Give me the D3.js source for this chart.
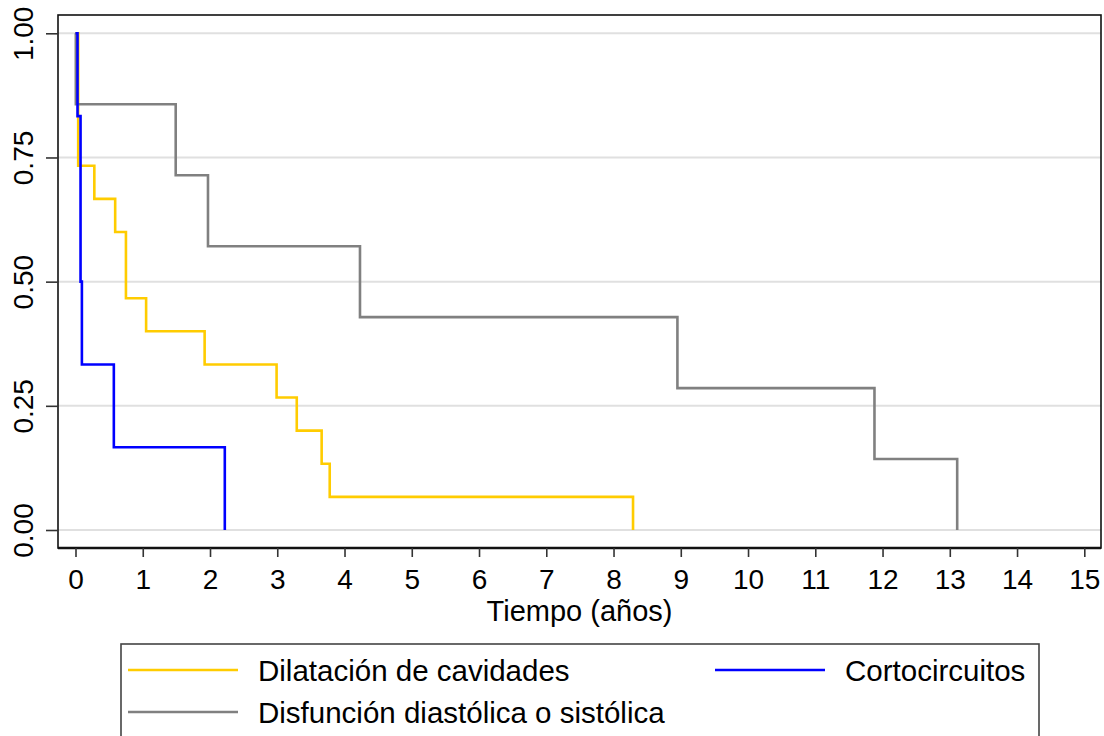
<!DOCTYPE html>
<html>
<head>
<meta charset="utf-8">
<script src="https://cdn.jsdelivr.net/npm/d3@7"></script>
<style>
  html, body { margin: 0; padding: 0; background: #fff; }
  svg { display: block; font-family: "Liberation Sans", Arial, sans-serif; }
</style>
</head>
<body>
<svg id="chart" width="1104" height="736"></svg>
<script>
// Kaplan-Meier survival estimates by group (time in years)
const dilTime = [0, 0.04, 0.28, 0.59, 0.75, 1.05, 1.92, 2.99, 3.29, 3.66, 3.78, 8.29];
const dilSurv = [1, 0.7333, 0.6667, 0.6, 0.4667, 0.4, 0.3333, 0.2667, 0.2, 0.1333, 0.0667, 0];

const disTime = [0, 0.005, 1.49, 1.97, 4.23, 8.95, 11.88, 13.11];
const disSurv = [1, 0.8571, 0.7143, 0.5714, 0.4286, 0.2857, 0.1429, 0];

const corTime = [0, 0.03, 0.075, 0.095, 0.57, 2.22];
const corSurv = [1, 0.8333, 0.5, 0.3333, 0.1667, 0];

const xTicks = d3.range(0, 16);
const yTicks = [0, 0.25, 0.5, 0.75, 1];
const yTickLabels = ["0.00", "0.25", "0.50", "0.75", "1.00"];

const legendLabels = ["Dilatación de cavidades", "Cortocircuitos", "Disfunción diastólica o sistólica"];
const xTitle = "Tiempo (años)";

const colors = { dil: "#ffcc00", cor: "#0000ff", dis: "#808080" };

const svg = d3.select("#chart");

// plot region frame
const frame = { left: 58, top: 15, right: 1101, bottom: 548 };
const x = d3.scaleLinear().domain([0, 15]).range([75.5, 1084.3]);
const y = d3.scaleLinear().domain([0, 1]).range([530, 33.3]);

// horizontal grid
svg.append("g").selectAll("line").data(yTicks).join("line")
  .attr("x1", frame.left).attr("x2", frame.right)
  .attr("y1", d => y(d)).attr("y2", d => y(d))
  .attr("stroke", "#e0e0e0").attr("stroke-width", 2);

// survival curves, drawn as right-continuous steps
const line = d3.line().curve(d3.curveStepAfter).x(d => x(d[0])).y(d => y(d[1]));
const series = [
  { t: dilTime, s: dilSurv, c: colors.dil },
  { t: disTime, s: disSurv, c: colors.dis },
  { t: corTime, s: corSurv, c: colors.cor }
];
series.forEach(sr => {
  const pts = sr.t.map((t, i) => [t, sr.s[i]]);
  svg.append("path")
    .datum(pts)
    .attr("d", line)
    .attr("fill", "none")
    .attr("stroke", sr.c)
    .attr("stroke-width", 2.6);
});

// frame
svg.append("rect")
  .attr("x", frame.left).attr("y", frame.top)
  .attr("width", frame.right - frame.left).attr("height", frame.bottom - frame.top)
  .attr("fill", "none").attr("stroke", "#111").attr("stroke-width", 1.6);
svg.append("line")
  .attr("x1", frame.left).attr("x2", frame.right)
  .attr("y1", frame.bottom).attr("y2", frame.bottom)
  .attr("stroke", "#111").attr("stroke-width", 2.6);

// y axis
const yAxis = svg.append("g").attr("transform", `translate(${frame.left},0)`)
  .call(d3.axisLeft(y).tickValues(yTicks).tickSize(12).tickFormat((d, i) => yTickLabels[i]));
yAxis.select(".domain").remove();
yAxis.selectAll(".tick line").attr("stroke", "#333").attr("stroke-width", 1.6);
yAxis.selectAll(".tick text")
  .attr("x", 0).attr("dy", 0)
  .attr("transform", `translate(${33 - frame.left},0) rotate(-90)`)
  .attr("text-anchor", "middle")
  .attr("font-size", 28).attr("fill", "#000");

// x axis
const xAxis = svg.append("g").attr("transform", `translate(0,${frame.bottom})`)
  .call(d3.axisBottom(x).tickValues(xTicks).tickSize(9).tickFormat(d3.format("d")));
xAxis.select(".domain").remove();
xAxis.selectAll(".tick line").attr("stroke", "#333").attr("stroke-width", 1.6);
xAxis.selectAll(".tick text")
  .attr("y", 41).attr("dy", 0)
  .attr("font-size", 28).attr("fill", "#000");

svg.append("text")
  .attr("x", (frame.left + frame.right) / 2).attr("y", 621)
  .attr("text-anchor", "middle").attr("font-size", 29).attr("fill", "#000")
  .text(xTitle);

// legend
svg.append("rect")
  .attr("x", 121).attr("y", 644).attr("width", 918).attr("height", 120)
  .attr("fill", "#fff").attr("stroke", "#444").attr("stroke-width", 1.6);

const legendItems = [
  { label: legendLabels[0], c: colors.dil, x: 128, y: 670 },
  { label: legendLabels[1], c: colors.cor, x: 715, y: 670 },
  { label: legendLabels[2], c: colors.dis, x: 128, y: 712 }
];
const lg = svg.append("g").selectAll("g").data(legendItems).join("g");
lg.append("line")
  .attr("x1", d => d.x).attr("x2", d => d.x + 110)
  .attr("y1", d => d.y).attr("y2", d => d.y)
  .attr("stroke", d => d.c).attr("stroke-width", 2.6);
lg.append("text")
  .attr("x", d => d.x + 130).attr("y", d => d.y + 11)
  .attr("font-size", 29.5).attr("fill", "#000")
  .text(d => d.label);
</script>
</body>
</html>
